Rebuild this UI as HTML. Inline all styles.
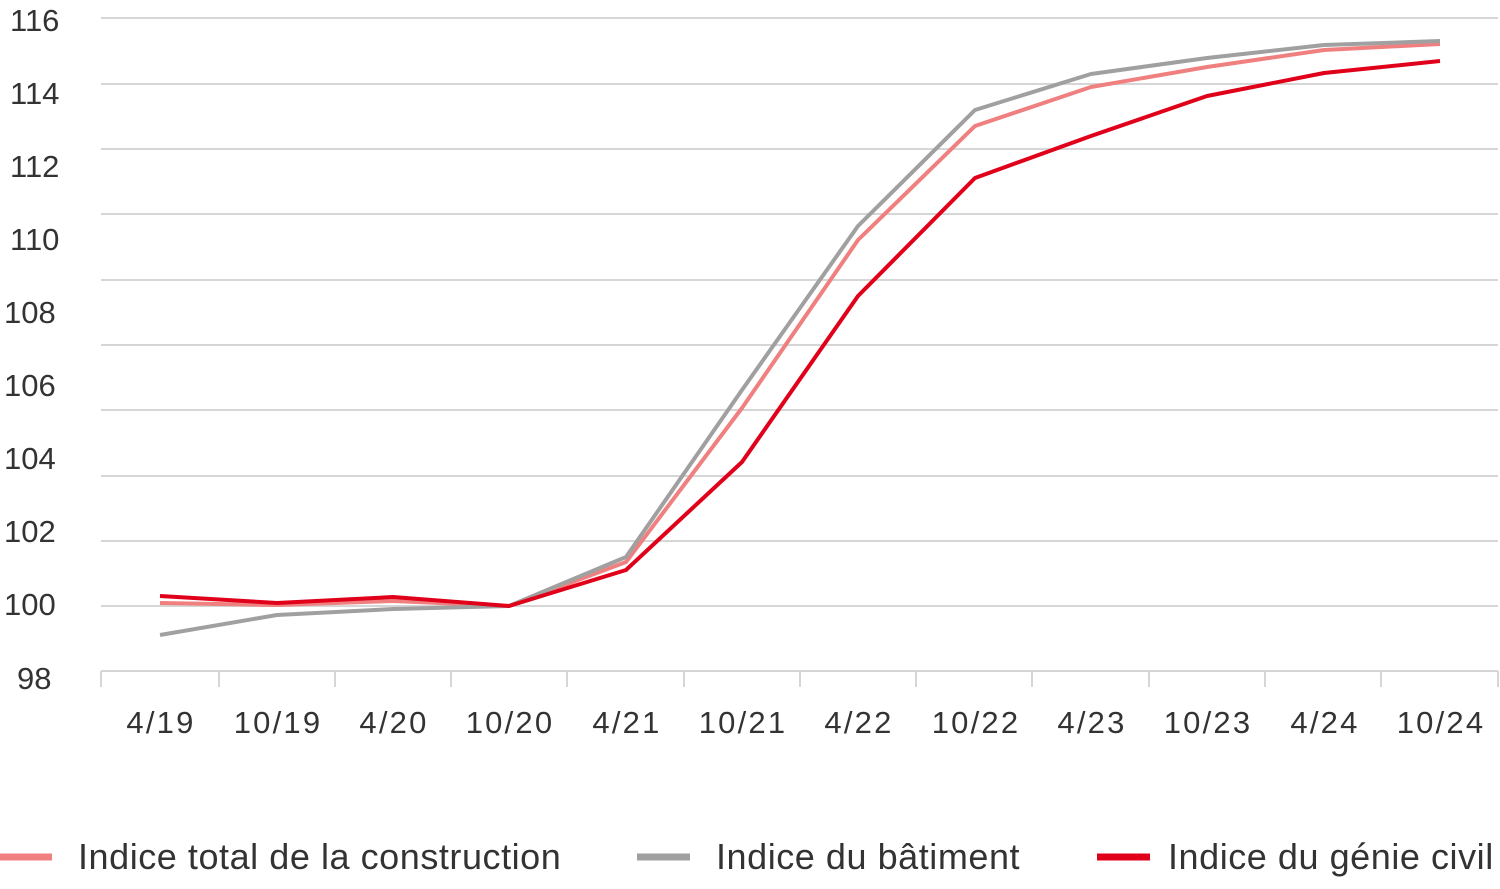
<!DOCTYPE html>
<html><head><meta charset="utf-8"><style>
html,body{margin:0;padding:0;background:#fff;}
svg{display:block;font-family:"Liberation Sans",sans-serif;}
</style></head><body>
<svg width="1500" height="889" viewBox="0 0 1500 889" xmlns="http://www.w3.org/2000/svg">
<g stroke="#d6d6d6" stroke-width="2">
<line x1="101" y1="18" x2="1498" y2="18"/><line x1="101" y1="84" x2="1498" y2="84"/>
<line x1="101" y1="149" x2="1498" y2="149"/><line x1="101" y1="214" x2="1498" y2="214"/>
<line x1="101" y1="280" x2="1498" y2="280"/><line x1="101" y1="345" x2="1498" y2="345"/>
<line x1="101" y1="410" x2="1498" y2="410"/><line x1="101" y1="476" x2="1498" y2="476"/>
<line x1="101" y1="541" x2="1498" y2="541"/><line x1="101" y1="606" x2="1498" y2="606"/>
<line x1="101" y1="671" x2="1498" y2="671"/>
</g>
<g stroke="#d6d6d6" stroke-width="2">
<line x1="101" y1="671" x2="101" y2="687"/><line x1="219" y1="671" x2="219" y2="687"/>
<line x1="335" y1="671" x2="335" y2="687"/><line x1="451" y1="671" x2="451" y2="687"/>
<line x1="567" y1="671" x2="567" y2="687"/><line x1="684" y1="671" x2="684" y2="687"/>
<line x1="800" y1="671" x2="800" y2="687"/><line x1="916" y1="671" x2="916" y2="687"/>
<line x1="1032" y1="671" x2="1032" y2="687"/><line x1="1149" y1="671" x2="1149" y2="687"/>
<line x1="1265" y1="671" x2="1265" y2="687"/><line x1="1381" y1="671" x2="1381" y2="687"/>
<line x1="1498" y1="671" x2="1498" y2="687"/>
</g>
<g font-size="31" fill="#333">
<text x="10" y="31">116</text><text x="10" y="104">114</text><text x="10" y="177">112</text>
<text x="10" y="250">110</text><text x="4" y="323">108</text><text x="4" y="396">106</text>
<text x="4" y="469">104</text><text x="4" y="542">102</text><text x="4" y="615">100</text>
<text x="17" y="689">98</text>
</g>
<g font-size="31" fill="#333" text-anchor="middle" letter-spacing="2.2">
<text x="161" y="733">4/19</text><text x="278" y="733">10/19</text><text x="394" y="733">4/20</text>
<text x="510" y="733">10/20</text><text x="627" y="733">4/21</text><text x="743" y="733">10/21</text>
<text x="859" y="733">4/22</text><text x="976" y="733">10/22</text><text x="1092" y="733">4/23</text>
<text x="1208" y="733">10/23</text><text x="1325" y="733">4/24</text><text x="1441" y="733">10/24</text>
</g>
<g fill="none" stroke-width="4" stroke-linejoin="round">
<polyline stroke="#f08080" points="160,603 277,605 393,601 509,606 626,562 742,408 858,240 975,126 1091,87 1207,67 1324,50 1440,44"/>
<polyline stroke="#a0a0a0" points="160,635 277,615 393,609 509,606 626,557 742,390 858,226 975,110 1091,74 1207,58 1324,45 1440,41"/>
<polyline stroke="#e0001a" points="160,596 277,603 393,597 509,606 626,570 742,462 858,296 975,178 1091,136 1207,96 1324,73 1440,61"/>
</g>
<g stroke-width="7">
<line x1="0" y1="857" x2="52" y2="857" stroke="#f08080"/>
<line x1="637" y1="857" x2="690" y2="857" stroke="#a0a0a0"/>
<line x1="1097" y1="857" x2="1150" y2="857" stroke="#e0001a"/>
</g>
<g font-size="36" fill="#333" letter-spacing="0.55">
<text x="78" y="869">Indice total de la construction</text>
<text x="716" y="869">Indice du bâtiment</text>
<text x="1168" y="869">Indice du génie civil</text>
</g>
</svg>
</body></html>
